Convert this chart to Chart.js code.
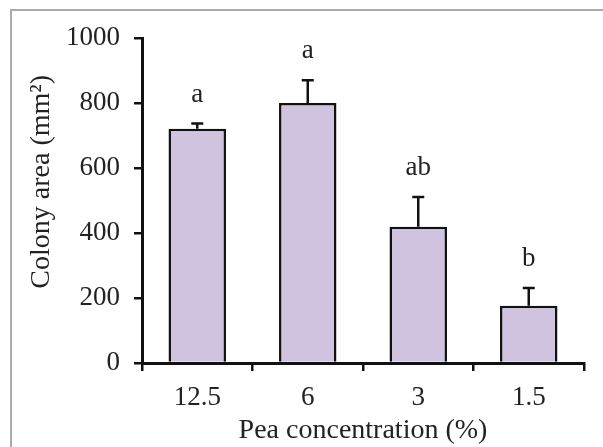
<!DOCTYPE html>
<html>
<head>
    <title>Colony area vs pea concentration</title>
    <script src="https://cdn.jsdelivr.net/npm/chart.js"></script>
<style>
  body{
    margin: 0;
    background: white;
  }
  #wrap{
    position: relative;
    width: 603px;
    height: 447px;
  }
  #frame{
    position: absolute;
    left: 10px;
    top: 9px;
    right: 0;
    bottom: 0;
    border-left: 2px solid #aaa;
    border-top: 2px solid #aaa;
    pointer-events: none;
  }
</style>
</head>
<body>
  <div id="wrap">
    <canvas id="chart" width="603" height="447"></canvas>
    <div id="frame"></div>
  </div>

    <script>
        // data
        const concentrations = ['12.5', '6', '3', '1.5'];
        const colonyArea = [721, 800, 419, 176];
        const errorUp = [16, 70, 92, 55];
        const letters = ['a', 'a', 'ab', 'b'];
        const yTicks = [0, 200, 400, 600, 800, 1000];

        const serif = "'Liberation Serif', 'DejaVu Serif', serif";

        // error bars (upper only) and significance letters
        const extras = {
            id: 'extras',
            afterDatasetsDraw(chart) {
                const c = chart.ctx;
                const meta = chart.getDatasetMeta(0);
                const y = chart.scales.y;
                c.save();
                c.strokeStyle = '#111';
                c.lineWidth = 2.5;
                c.fillStyle = '#222';
                c.font = '27px ' + serif;
                c.textAlign = 'center';
                c.textBaseline = 'middle';
                meta.data.forEach((bar, i) => {
                    const top = y.getPixelForValue(colonyArea[i] + errorUp[i]);
                    const base = y.getPixelForValue(colonyArea[i]);
                    c.beginPath();
                    c.moveTo(bar.x, base);
                    c.lineTo(bar.x, top);
                    c.moveTo(bar.x - 6, top);
                    c.lineTo(bar.x + 6, top);
                    c.stroke();
                    c.fillText(letters[i], bar.x, top - 29);
                });
                c.restore();
            }
        };

        new Chart(document.getElementById('chart'), {
            type: 'bar',
            data: {
                labels: concentrations,
                datasets: [{
                    data: colonyArea,
                    backgroundColor: '#d0c3df',
                    borderColor: '#111',
                    borderWidth: 2.5,
                    barPercentage: 0.52,
                    categoryPercentage: 1
                }]
            },
            options: {
                responsive: false,
                animation: false,
                layout: { padding: { left: 25, top: 38, right: 19, bottom: 0 } },
                plugins: {
                    legend: { display: false },
                    tooltip: { enabled: false }
                },
                scales: {
                    x: {
                        afterFit: (s) => { s.height = 84; },
                        border: { color: '#111', width: 3 },
                        grid: { drawOnChartArea: false, color: '#111', lineWidth: 2.5, tickLength: 8 },
                        ticks: { color: '#222', font: { family: serif, size: 27 }, padding: 11 },
                        title: {
                            display: true,
                            text: 'Pea concentration (%)',
                            color: '#222',
                            font: { family: serif, size: 28 },
                            padding: { top: 0, bottom: 0 }
                        }
                    },
                    y: {
                        min: 0,
                        max: 1000,
                        afterFit: (s) => { s.width = 117; },
                        afterBuildTicks: (s) => { s.ticks = yTicks.map(v => ({ value: v })); },
                        border: { color: '#111', width: 3 },
                        grid: { drawOnChartArea: false, color: '#111', lineWidth: 2.5, tickLength: 8 },
                        ticks: {
                            color: '#222',
                            font: { family: serif, size: 27 },
                            padding: 14,
                            callback: (v) => String(v)
                        },
                        title: {
                            display: true,
                            // leading spaces nudge the label up, as in the original
                            text: '\u2003\u2004Colony area (mm²)',
                            color: '#222',
                            font: { family: serif, size: 28 },
                            padding: 0
                        }
                    }
                }
            },
            plugins: [extras]
        });
    </script>
</body>
</html>
